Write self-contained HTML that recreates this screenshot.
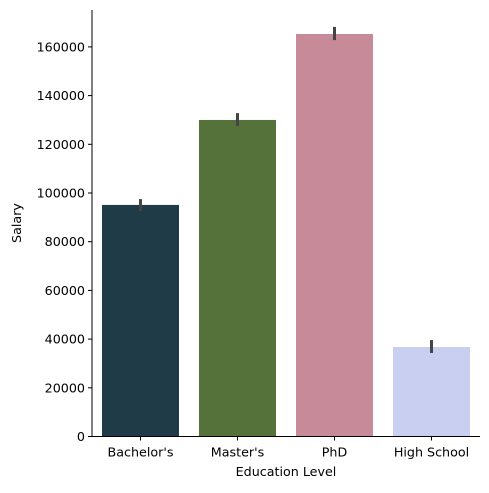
<!DOCTYPE html>
<html><head><meta charset="utf-8"><style>
body{margin:0;background:#fff;font-family:"DejaVu Sans","Liberation Sans",sans-serif}
</style></head><body>
<svg id="c" width="489" height="489" xmlns="http://www.w3.org/2000/svg" font-family="DejaVu Sans, Liberation Sans, sans-serif"></svg>
<script>
const categories=["Bachelor's","Master's","PhD","High School"];
const salaries=[95100,130000,165300,36750];
const errLow=[92600,127500,162800,34300];
const errHigh=[97500,132800,168200,39600];
const yTicks=[0,20000,40000,60000,80000,100000,120000,140000,160000];
const colors=["#1e3b47","#55723a","#c78a98","#c8cff0"];
const svg=document.getElementById('c');
const NS="http://www.w3.org/2000/svg";
const L=92,R=480,B=436.5,T=10;
const y=v=>B-v/20000*48.7;
const step=(R-L)/categories.length;
const x=i=>L+step*(i+0.5);
const bw=77;
const fs=12.7;
function mk(t,a,txt){const e=document.createElementNS(NS,t);for(const k in a)e.setAttribute(k,a[k]);if(txt!==undefined)e.textContent=txt;svg.appendChild(e);return e;}
categories.forEach((c,i)=>{
 let r=mk('rect',{x:x(i)-bw/2,y:y(salaries[i]),width:bw,height:B-y(salaries[i]),fill:colors[i]});
 
 
 let e=mk('line',{x1:x(i),x2:x(i),y1:y(errLow[i]),y2:y(errHigh[i]),stroke:'#444',"stroke-width":3});
 
 
 mk('line',{x1:x(i),x2:x(i),y1:B,y2:B+4,stroke:'#000'});
 let t=mk('text',{x:x(i),y:B+20,"text-anchor":"middle","font-size":fs},c);
 
 
});
yTicks.forEach(v=>{
 mk('line',{x1:L-4,x2:L,y1:y(v),y2:y(v),stroke:'#000'});
 let t=mk('text',{x:L-7,y:y(v)+4.5,"text-anchor":"end","font-size":fs},String(v));
 
 
});
let a=mk('line',{x1:L,x2:L,y1:T,y2:B,stroke:'#000',"stroke-width":1});


let b=mk('line',{x1:L,x2:R,y1:B,y2:B,stroke:'#000',"stroke-width":1});


let xt=mk('text',{x:(L+R)/2,y:476,"text-anchor":"middle","font-size":fs},"Education Level");


let yt=mk('text',{x:21,y:223,"text-anchor":"middle","font-size":fs,transform:"rotate(-90 21 223)"},"Salary");


</script>
</body></html>
